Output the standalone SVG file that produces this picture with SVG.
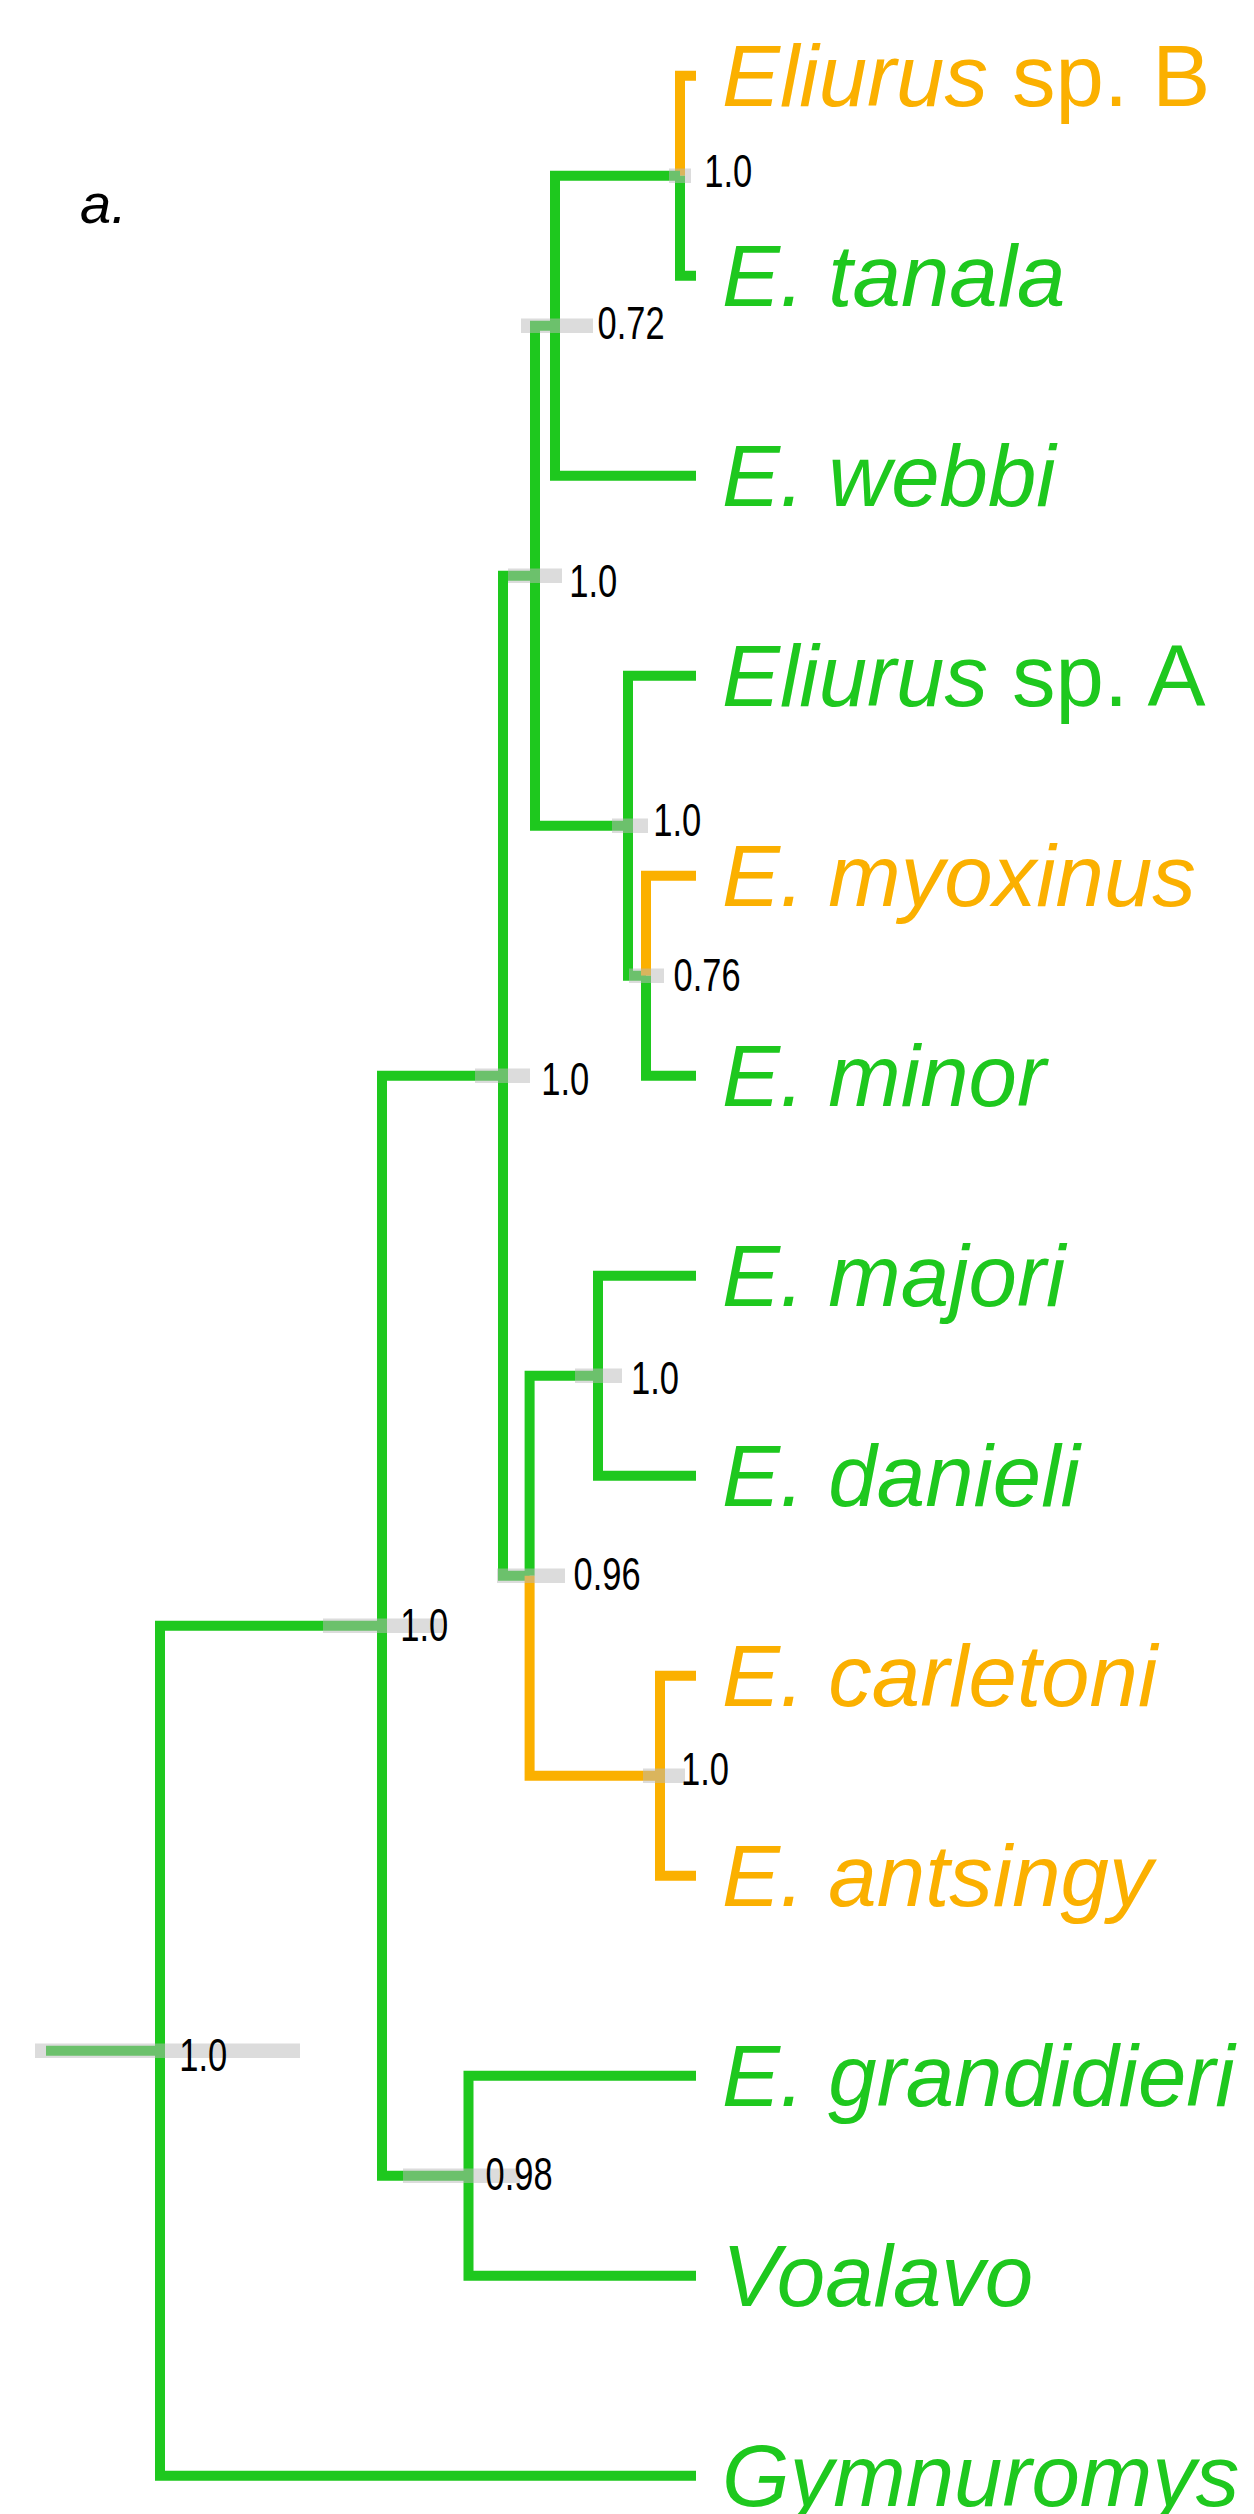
<svg xmlns="http://www.w3.org/2000/svg" width="1254" height="2514" viewBox="0 0 1254 2514">
<style>
.g{fill:none;stroke:#1ec81e;stroke-width:10;stroke-linejoin:miter;stroke-linecap:butt}
.o{fill:none;stroke:#fbb000;stroke-width:10;stroke-linejoin:miter;stroke-linecap:butt}
.bar{fill:#b9b9b9;fill-opacity:0.5}
.sup{font-family:"Liberation Sans",Arial,sans-serif;font-size:46px;fill:#000}
.tip{font-family:"Liberation Sans",Arial,sans-serif;font-size:87px;font-style:italic}
.up{font-style:normal}
.tg{fill:#1ec81e}
.to{fill:#fbb000}
</style>
<rect width="1254" height="2514" fill="#fff"/>
<text x="80" y="222.7" font-family="Liberation Sans, Arial, sans-serif" font-size="56" font-style="italic" fill="#000">a.</text>
<g id="connectors">
<path class="o" d="M696,75.7 H680 V175.7"/>
<path class="g" d="M680,175.7 V275.7 H696"/>
<path class="g" d="M680,175.7 H555 V475.7 H696"/>
<path class="g" d="M555,325.7 H535 V825.7 H628"/>
<path class="g" d="M696,675.7 H628 V975.7 H646"/>
<path class="o" d="M696,875.7 H646 V975.7"/>
<path class="g" d="M646,975.7 V1075.7 H696"/>
<path class="g" d="M535,575.7 H503 V1575.7 H529.6"/>
<path class="g" d="M598,1375.7 H529.6 V1575.7"/>
<path class="o" d="M529.6,1575.7 V1775.7 H660"/>
<path class="g" d="M696,1275.7 H598 V1475.7 H696"/>
<path class="o" d="M696,1675.7 H660 V1875.7 H696"/>
<path class="g" d="M503,1075.7 H382 V2175.7 H468.5"/>
<path class="g" d="M696,2075.7 H468.5 V2275.7 H696"/>
<path class="g" d="M382,1625.7 H160 V2475.7 H696"/>
<path class="g" d="M46,2050.7 H160"/>
</g>
<g id="node-Bt"><rect class="bar" x="669" y="168.5" width="22" height="14.5"/><text class="sup" x="704.3" y="186.7" textLength="48" lengthAdjust="spacingAndGlyphs">1.0</text></g>
<g id="node-072"><rect class="bar" x="521" y="318.5" width="72" height="14.5"/><text class="sup" x="597.6" y="339" textLength="67" lengthAdjust="spacingAndGlyphs">0.72</text></g>
<g id="node-575"><rect class="bar" x="508" y="568.5" width="54" height="14.5"/><text class="sup" x="569.3" y="597" textLength="48" lengthAdjust="spacingAndGlyphs">1.0</text></g>
<g id="node-825"><rect class="bar" x="612" y="818.5" width="36" height="14.5"/><text class="sup" x="653.3" y="836" textLength="48" lengthAdjust="spacingAndGlyphs">1.0</text></g>
<g id="node-076"><rect class="bar" x="629" y="968.5" width="35" height="14.5"/><text class="sup" x="673.6" y="990.7" textLength="67" lengthAdjust="spacingAndGlyphs">0.76</text></g>
<g id="node-1075"><rect class="bar" x="475" y="1068.5" width="55" height="14.5"/><text class="sup" x="541.3" y="1095" textLength="48" lengthAdjust="spacingAndGlyphs">1.0</text></g>
<g id="node-majdan"><rect class="bar" x="575" y="1368.5" width="47" height="14.5"/><text class="sup" x="631" y="1394" textLength="48" lengthAdjust="spacingAndGlyphs">1.0</text></g>
<g id="node-096"><rect class="bar" x="497" y="1568.5" width="68" height="14.5"/><text class="sup" x="573.6" y="1590" textLength="67" lengthAdjust="spacingAndGlyphs">0.96</text></g>
<g id="node-carl"><rect class="bar" x="643" y="1768.5" width="42" height="14.5"/><text class="sup" x="681" y="1785" textLength="48" lengthAdjust="spacingAndGlyphs">1.0</text></g>
<g id="node-1625"><rect class="bar" x="323" y="1618.5" width="120" height="14.5"/><text class="sup" x="400.3" y="1640.6" textLength="48" lengthAdjust="spacingAndGlyphs">1.0</text></g>
<g id="node-098"><rect class="bar" x="403" y="2168.5" width="117" height="14.5"/><text class="sup" x="485.6" y="2190" textLength="67" lengthAdjust="spacingAndGlyphs">0.98</text></g>
<g id="node-root"><rect class="bar" x="35" y="2043.5" width="265" height="14.5"/><text class="sup" x="179.3" y="2071" textLength="48" lengthAdjust="spacingAndGlyphs">1.0</text></g>
<g id="tip-eliurus-b"><text class="tip to" x="722" y="105.7">Eliurus<tspan class="up"> sp. B</tspan></text></g>
<g id="tip-tanala"><text class="tip tg" x="722" y="305.7">E. tanala</text></g>
<g id="tip-webbi"><text class="tip tg" x="722" y="505.7">E. webbi</text></g>
<g id="tip-eliurus-a"><text class="tip tg" x="722" y="705.7">Eliurus<tspan class="up"> sp. A</tspan></text></g>
<g id="tip-myoxinus"><text class="tip to" x="722" y="905.7">E. myoxinus</text></g>
<g id="tip-minor"><text class="tip tg" x="722" y="1105.7">E. minor</text></g>
<g id="tip-majori"><text class="tip tg" x="722" y="1305.7">E. majori</text></g>
<g id="tip-danieli"><text class="tip tg" x="722" y="1505.7">E. danieli</text></g>
<g id="tip-carletoni"><text class="tip to" x="722" y="1705.7">E. carletoni</text></g>
<g id="tip-antsingy"><text class="tip to" x="722" y="1905.7">E. antsingy</text></g>
<g id="tip-grandidieri"><text class="tip tg" x="722" y="2105.7">E. grandidieri</text></g>
<g id="tip-voalavo"><text class="tip tg" x="722" y="2305.7">Voalavo</text></g>
<g id="tip-gymnuromys"><text class="tip tg" x="722" y="2505.7">Gymnuromys</text></g>
</svg>
